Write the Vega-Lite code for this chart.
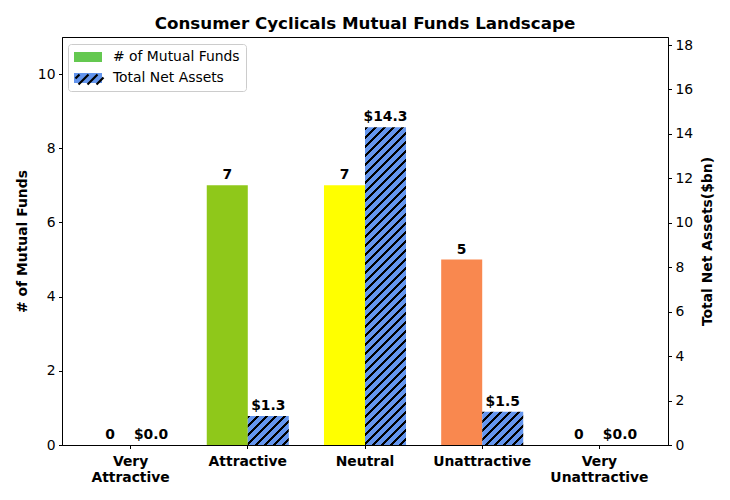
{
  "$schema": "https://vega.github.io/schema/vega-lite/v6.json",
  "autosize": {"type": "none"},
  "padding": {"left": 62, "top": 37, "right": 62, "bottom": 55},
  "width": 606,
  "height": 408,
  "background": "white",
  "title": {"text": "Consumer Cyclicals Mutual Funds Landscape", "font": "DejaVu Sans", "fontSize": 16.7, "fontWeight": "bold", "color": "#000000", "anchor": "middle", "baseline": "alphabetic", "offset": 8, "frame": "group", "dy": 17},
  "config": {
    "view": {"stroke": "#000000", "strokeWidth": 1},
    "font": "DejaVu Sans",
    "axis": {"domainColor": "#000000", "domainWidth": 1, "tickColor": "#000000", "tickWidth": 1, "tickSize": 3.5, "labelColor": "#000000", "labelFont": "DejaVu Sans", "labelFontSize": 13.9, "labelPadding": 3.5, "grid": false, "titleFont": "DejaVu Sans", "titleFontSize": 13.9, "titleFontWeight": "bold", "titleColor": "#000000"}
  },
  "data": {"values": [
    {"category": "Very Attractive", "series": "# of Mutual Funds", "value": 0},
    {"category": "Attractive", "series": "# of Mutual Funds", "value": 7},
    {"category": "Neutral", "series": "# of Mutual Funds", "value": 7},
    {"category": "Unattractive", "series": "# of Mutual Funds", "value": 5},
    {"category": "Very Unattractive", "series": "# of Mutual Funds", "value": 0},
    {"category": "Very Attractive", "series": "Total Net Assets", "value": 0},
    {"category": "Attractive", "series": "Total Net Assets", "value": 1.3},
    {"category": "Neutral", "series": "Total Net Assets", "value": 14.3},
    {"category": "Unattractive", "series": "Total Net Assets", "value": 1.5},
    {"category": "Very Unattractive", "series": "Total Net Assets", "value": 0}
  ]},
  "encoding": {
    "x": {"field": "category", "type": "nominal", "sort": ["Very Attractive", "Attractive", "Neutral", "Unattractive", "Very Unattractive"],
      "scale": {"paddingInner": 0.3, "paddingOuter": 0.235},
      "axis": {"title": null, "labelAngle": 0, "labelFontWeight": "bold", "labelExpr": "split(datum.label, ' ')", "labelLineHeight": 16, "labelBaseline": "top", "labelPadding": 5.5}},
    "xOffset": {"field": "series", "type": "nominal", "scale": {"domain": ["# of Mutual Funds", "Total Net Assets"], "paddingInner": 0, "paddingOuter": 0}}
  },
  "layer": [
    {
      "transform": [{"filter": "datum.series === '# of Mutual Funds'"}],
      "encoding": {
        "y": {"field": "value", "type": "quantitative", "scale": {"domain": [0, 11], "nice": false, "zero": true},
          "axis": {"orient": "left", "title": "# of Mutual Funds", "values": [0, 2, 4, 6, 8, 10], "titlePadding": 8}}
      },
      "layer": [
        {"mark": {"type": "bar"},
         "encoding": {"fill": {"field": "category", "type": "nominal", "legend": null,
           "scale": {"domain": ["Very Attractive", "Attractive", "Neutral", "Unattractive", "Very Unattractive"], "range": ["#1a9850", "#8fc81a", "#ffff00", "#f9884f", "#d73027"]}}}},
        {"mark": {"type": "text", "baseline": "alphabetic", "dy": -6, "font": "DejaVu Sans", "fontSize": 13.9, "fontWeight": "bold", "color": "#000000"},
         "encoding": {"text": {"field": "value", "type": "quantitative", "format": "d"}}}
      ]
    },
    {
      "transform": [{"filter": "datum.series === 'Total Net Assets'"}],
      "encoding": {
        "y": {"field": "value", "type": "quantitative", "scale": {"domain": [0, 18.36], "nice": false, "zero": true},
          "axis": {"orient": "right", "title": "Total Net Assets($bn)", "titleAngle": 270, "values": [0, 2, 4, 6, 8, 10, 12, 14, 16, 18], "titlePadding": 22}}
      },
      "layer": [
        {"mark": {"type": "bar"},
         "encoding": {"fill": {
           "condition": [
             {"test": "datum.category === 'Attractive'", "value": {"gradient": "linear", "x1": 0, "y1": 0, "x2": 1.1393, "y2": 0.8022, "stops": [
               {"offset": 0, "color": "#000000"}, {"offset": 0.0429, "color": "#000000"}, {"offset": 0.0429, "color": "#6495ed"}, {"offset": 0.1287, "color": "#6495ed"},
               {"offset": 0.1287, "color": "#000000"}, {"offset": 0.1716, "color": "#000000"}, {"offset": 0.1716, "color": "#6495ed"}, {"offset": 0.2574, "color": "#6495ed"},
               {"offset": 0.2574, "color": "#000000"}, {"offset": 0.3003, "color": "#000000"}, {"offset": 0.3003, "color": "#6495ed"}, {"offset": 0.3862, "color": "#6495ed"},
               {"offset": 0.3862, "color": "#000000"}, {"offset": 0.4291, "color": "#000000"}, {"offset": 0.4291, "color": "#6495ed"}, {"offset": 0.5149, "color": "#6495ed"},
               {"offset": 0.5149, "color": "#000000"}, {"offset": 0.5578, "color": "#000000"}, {"offset": 0.5578, "color": "#6495ed"}, {"offset": 0.6436, "color": "#6495ed"},
               {"offset": 0.6436, "color": "#000000"}, {"offset": 0.6865, "color": "#000000"}, {"offset": 0.6865, "color": "#6495ed"}, {"offset": 0.7723, "color": "#6495ed"},
               {"offset": 0.7723, "color": "#000000"}, {"offset": 0.8152, "color": "#000000"}, {"offset": 0.8152, "color": "#6495ed"}, {"offset": 0.9010, "color": "#6495ed"},
               {"offset": 0.9010, "color": "#000000"}, {"offset": 0.9439, "color": "#000000"}, {"offset": 0.9439, "color": "#6495ed"}, {"offset": 1, "color": "#6495ed"}]}},
             {"test": "datum.category === 'Unattractive'", "value": {"gradient": "linear", "x1": 0, "y1": 0, "x2": 1.0918, "y2": 0.8869, "stops": [
               {"offset": 0, "color": "#000000"}, {"offset": 0.0403, "color": "#000000"}, {"offset": 0.0403, "color": "#6495ed"}, {"offset": 0.1210, "color": "#6495ed"},
               {"offset": 0.1210, "color": "#000000"}, {"offset": 0.1614, "color": "#000000"}, {"offset": 0.1614, "color": "#6495ed"}, {"offset": 0.2421, "color": "#6495ed"},
               {"offset": 0.2421, "color": "#000000"}, {"offset": 0.2824, "color": "#000000"}, {"offset": 0.2824, "color": "#6495ed"}, {"offset": 0.3631, "color": "#6495ed"},
               {"offset": 0.3631, "color": "#000000"}, {"offset": 0.4034, "color": "#000000"}, {"offset": 0.4034, "color": "#6495ed"}, {"offset": 0.4841, "color": "#6495ed"},
               {"offset": 0.4841, "color": "#000000"}, {"offset": 0.5245, "color": "#000000"}, {"offset": 0.5245, "color": "#6495ed"}, {"offset": 0.6052, "color": "#6495ed"},
               {"offset": 0.6052, "color": "#000000"}, {"offset": 0.6455, "color": "#000000"}, {"offset": 0.6455, "color": "#6495ed"}, {"offset": 0.7262, "color": "#6495ed"},
               {"offset": 0.7262, "color": "#000000"}, {"offset": 0.7665, "color": "#000000"}, {"offset": 0.7665, "color": "#6495ed"}, {"offset": 0.8472, "color": "#6495ed"},
               {"offset": 0.8472, "color": "#000000"}, {"offset": 0.8876, "color": "#000000"}, {"offset": 0.8876, "color": "#6495ed"}, {"offset": 0.9683, "color": "#6495ed"},
               {"offset": 0.9683, "color": "#000000"}, {"offset": 1, "color": "#000000"}]}},
             {"test": "datum.category === 'Neutral'", "value": {"gradient": "linear", "x1": 0, "y1": 0, "x2": 0.1434, "y2": 1.1106, "stops": [
               {"offset": 0, "color": "#000000"}, {"offset": 0.0084, "color": "#000000"}, {"offset": 0.0084, "color": "#6495ed"}, {"offset": 0.0251, "color": "#6495ed"},
               {"offset": 0.0251, "color": "#000000"}, {"offset": 0.0335, "color": "#000000"}, {"offset": 0.0335, "color": "#6495ed"}, {"offset": 0.0502, "color": "#6495ed"},
               {"offset": 0.0502, "color": "#000000"}, {"offset": 0.0586, "color": "#000000"}, {"offset": 0.0586, "color": "#6495ed"}, {"offset": 0.0752, "color": "#6495ed"},
               {"offset": 0.0752, "color": "#000000"}, {"offset": 0.0836, "color": "#000000"}, {"offset": 0.0836, "color": "#6495ed"}, {"offset": 0.1003, "color": "#6495ed"},
               {"offset": 0.1003, "color": "#000000"}, {"offset": 0.1087, "color": "#000000"}, {"offset": 0.1087, "color": "#6495ed"}, {"offset": 0.1254, "color": "#6495ed"},
               {"offset": 0.1254, "color": "#000000"}, {"offset": 0.1338, "color": "#000000"}, {"offset": 0.1338, "color": "#6495ed"}, {"offset": 0.1505, "color": "#6495ed"},
               {"offset": 0.1505, "color": "#000000"}, {"offset": 0.1589, "color": "#000000"}, {"offset": 0.1589, "color": "#6495ed"}, {"offset": 0.1756, "color": "#6495ed"},
               {"offset": 0.1756, "color": "#000000"}, {"offset": 0.1840, "color": "#000000"}, {"offset": 0.1840, "color": "#6495ed"}, {"offset": 0.2007, "color": "#6495ed"},
               {"offset": 0.2007, "color": "#000000"}, {"offset": 0.2091, "color": "#000000"}, {"offset": 0.2091, "color": "#6495ed"}, {"offset": 0.2257, "color": "#6495ed"},
               {"offset": 0.2257, "color": "#000000"}, {"offset": 0.2341, "color": "#000000"}, {"offset": 0.2341, "color": "#6495ed"}, {"offset": 0.2508, "color": "#6495ed"},
               {"offset": 0.2508, "color": "#000000"}, {"offset": 0.2592, "color": "#000000"}, {"offset": 0.2592, "color": "#6495ed"}, {"offset": 0.2759, "color": "#6495ed"},
               {"offset": 0.2759, "color": "#000000"}, {"offset": 0.2843, "color": "#000000"}, {"offset": 0.2843, "color": "#6495ed"}, {"offset": 0.3010, "color": "#6495ed"},
               {"offset": 0.3010, "color": "#000000"}, {"offset": 0.3094, "color": "#000000"}, {"offset": 0.3094, "color": "#6495ed"}, {"offset": 0.3261, "color": "#6495ed"},
               {"offset": 0.3261, "color": "#000000"}, {"offset": 0.3345, "color": "#000000"}, {"offset": 0.3345, "color": "#6495ed"}, {"offset": 0.3512, "color": "#6495ed"},
               {"offset": 0.3512, "color": "#000000"}, {"offset": 0.3596, "color": "#000000"}, {"offset": 0.3596, "color": "#6495ed"}, {"offset": 0.3762, "color": "#6495ed"},
               {"offset": 0.3762, "color": "#000000"}, {"offset": 0.3846, "color": "#000000"}, {"offset": 0.3846, "color": "#6495ed"}, {"offset": 0.4013, "color": "#6495ed"},
               {"offset": 0.4013, "color": "#000000"}, {"offset": 0.4097, "color": "#000000"}, {"offset": 0.4097, "color": "#6495ed"}, {"offset": 0.4264, "color": "#6495ed"},
               {"offset": 0.4264, "color": "#000000"}, {"offset": 0.4348, "color": "#000000"}, {"offset": 0.4348, "color": "#6495ed"}, {"offset": 0.4515, "color": "#6495ed"},
               {"offset": 0.4515, "color": "#000000"}, {"offset": 0.4599, "color": "#000000"}, {"offset": 0.4599, "color": "#6495ed"}, {"offset": 0.4766, "color": "#6495ed"},
               {"offset": 0.4766, "color": "#000000"}, {"offset": 0.4850, "color": "#000000"}, {"offset": 0.4850, "color": "#6495ed"}, {"offset": 0.5017, "color": "#6495ed"},
               {"offset": 0.5017, "color": "#000000"}, {"offset": 0.5101, "color": "#000000"}, {"offset": 0.5101, "color": "#6495ed"}, {"offset": 0.5267, "color": "#6495ed"},
               {"offset": 0.5267, "color": "#000000"}, {"offset": 0.5351, "color": "#000000"}, {"offset": 0.5351, "color": "#6495ed"}, {"offset": 0.5518, "color": "#6495ed"},
               {"offset": 0.5518, "color": "#000000"}, {"offset": 0.5602, "color": "#000000"}, {"offset": 0.5602, "color": "#6495ed"}, {"offset": 0.5769, "color": "#6495ed"},
               {"offset": 0.5769, "color": "#000000"}, {"offset": 0.5853, "color": "#000000"}, {"offset": 0.5853, "color": "#6495ed"}, {"offset": 0.6020, "color": "#6495ed"},
               {"offset": 0.6020, "color": "#000000"}, {"offset": 0.6104, "color": "#000000"}, {"offset": 0.6104, "color": "#6495ed"}, {"offset": 0.6271, "color": "#6495ed"},
               {"offset": 0.6271, "color": "#000000"}, {"offset": 0.6355, "color": "#000000"}, {"offset": 0.6355, "color": "#6495ed"}, {"offset": 0.6522, "color": "#6495ed"},
               {"offset": 0.6522, "color": "#000000"}, {"offset": 0.6606, "color": "#000000"}, {"offset": 0.6606, "color": "#6495ed"}, {"offset": 0.6772, "color": "#6495ed"},
               {"offset": 0.6772, "color": "#000000"}, {"offset": 0.6856, "color": "#000000"}, {"offset": 0.6856, "color": "#6495ed"}, {"offset": 0.7023, "color": "#6495ed"},
               {"offset": 0.7023, "color": "#000000"}, {"offset": 0.7107, "color": "#000000"}, {"offset": 0.7107, "color": "#6495ed"}, {"offset": 0.7274, "color": "#6495ed"},
               {"offset": 0.7274, "color": "#000000"}, {"offset": 0.7358, "color": "#000000"}, {"offset": 0.7358, "color": "#6495ed"}, {"offset": 0.7525, "color": "#6495ed"},
               {"offset": 0.7525, "color": "#000000"}, {"offset": 0.7609, "color": "#000000"}, {"offset": 0.7609, "color": "#6495ed"}, {"offset": 0.7776, "color": "#6495ed"},
               {"offset": 0.7776, "color": "#000000"}, {"offset": 0.7860, "color": "#000000"}, {"offset": 0.7860, "color": "#6495ed"}, {"offset": 0.8027, "color": "#6495ed"},
               {"offset": 0.8027, "color": "#000000"}, {"offset": 0.8111, "color": "#000000"}, {"offset": 0.8111, "color": "#6495ed"}, {"offset": 0.8277, "color": "#6495ed"},
               {"offset": 0.8277, "color": "#000000"}, {"offset": 0.8361, "color": "#000000"}, {"offset": 0.8361, "color": "#6495ed"}, {"offset": 0.8528, "color": "#6495ed"},
               {"offset": 0.8528, "color": "#000000"}, {"offset": 0.8612, "color": "#000000"}, {"offset": 0.8612, "color": "#6495ed"}, {"offset": 0.8779, "color": "#6495ed"},
               {"offset": 0.8779, "color": "#000000"}, {"offset": 0.8863, "color": "#000000"}, {"offset": 0.8863, "color": "#6495ed"}, {"offset": 0.9030, "color": "#6495ed"},
               {"offset": 0.9030, "color": "#000000"}, {"offset": 0.9114, "color": "#000000"}, {"offset": 0.9114, "color": "#6495ed"}, {"offset": 0.9281, "color": "#6495ed"},
               {"offset": 0.9281, "color": "#000000"}, {"offset": 0.9365, "color": "#000000"}, {"offset": 0.9365, "color": "#6495ed"}, {"offset": 0.9532, "color": "#6495ed"},
               {"offset": 0.9532, "color": "#000000"}, {"offset": 0.9616, "color": "#000000"}, {"offset": 0.9616, "color": "#6495ed"}, {"offset": 0.9782, "color": "#6495ed"},
               {"offset": 0.9782, "color": "#000000"}, {"offset": 0.9866, "color": "#000000"}, {"offset": 0.9866, "color": "#6495ed"}, {"offset": 1, "color": "#6495ed"}]}}
           ],
           "value": "#6495ed"}}},
        {"mark": {"type": "text", "baseline": "alphabetic", "dy": -6, "font": "DejaVu Sans", "fontSize": 13.9, "fontWeight": "bold", "color": "#000000"},
         "encoding": {"text": {"field": "value", "type": "quantitative", "format": "$.1f"}}}
      ]
    },
    {
      "mark": {"type": "bar", "opacity": 0},
      "encoding": {
        "color": {"field": "series", "type": "nominal",
          "scale": {"domain": ["# of Mutual Funds", "Total Net Assets"], "range": ["#64c850", "#6495ed"]},
          "legend": {"title": null, "orient": "none", "legendX": 6, "legendY": 7, "padding": 6, "fillColor": "#ffffff", "strokeColor": "#cccccc", "cornerRadius": 3,
            "labelFont": "DejaVu Sans", "labelFontSize": 13.9, "labelColor": "#000000", "labelOffset": 25, "rowPadding": 7,
            "symbolType": "M-1,-0.714H3V0.714H-1Z", "symbolSize": 196, "symbolStrokeWidth": 0, "symbolOpacity": 1}
        }
      }
    },
    {
      "transform": [{"filter": "datum.series === 'Total Net Assets' && datum.category === 'Neutral'"}],
      "mark": {"type": "point", "opacity": 0, "color": "#000000", "strokeWidth": 2.2},
      "encoding": {
        "shape": {"field": "series", "type": "nominal",
          "scale": {"domain": ["Total Net Assets"], "range": ["M-1,-0.143L-0.429,-0.714M-0.571,0.714L0.857,-0.714M0.714,0.714L2.143,-0.714M2,0.714L3,-0.286"]},
          "legend": {"title": null, "orient": "none", "legendX": 12, "legendY": 34, "padding": 0,
            "labelFont": "DejaVu Sans", "labelFontSize": 13.9, "labelExpr": "''", "labelOffset": 25,
            "symbolSize": 196, "symbolStrokeColor": "#000000", "symbolStrokeWidth": 2.2, "symbolFillColor": "transparent", "symbolOpacity": 1}
        }
      }
    }
  ],
  "resolve": {"scale": {"y": "independent"}}
}
